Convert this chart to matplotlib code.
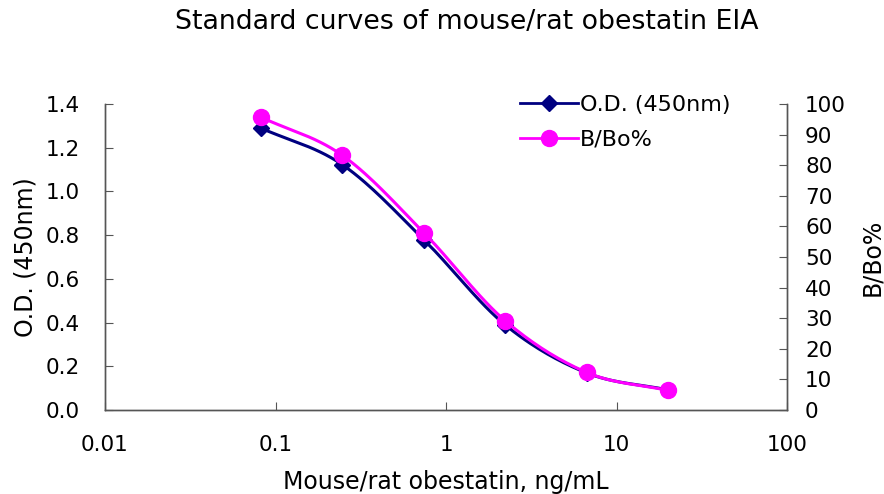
import matplotlib
matplotlib.use("Agg")
import matplotlib.pyplot as plt
from matplotlib.ticker import FixedLocator, FixedFormatter, NullLocator
import numpy as np

conc = [0.082, 0.247, 0.74, 2.22, 6.67, 20.0]
od_450 = [1.29, 1.122, 0.78, 0.39, 0.17, 0.092]
b_bo = [95.7, 83.2, 58.0, 29.2, 12.3, 6.4]

x_ticks = [0.01, 0.1, 1, 10, 100]
x_tick_labels = ["0.01", "0.1", "1", "10", "100"]
left_ticks = [0.0, 0.2, 0.4, 0.6, 0.8, 1.0, 1.2, 1.4]
right_ticks = [0, 10, 20, 30, 40, 50, 60, 70, 80, 90, 100]

NAVY = "#000080"
MAGENTA = "#ff00ff"
TICK_FS = 15.5
LABEL_FS = 17


def smooth(xs, ys, n=30):
    # Catmull-Rom style smoothing in (log x, y) space, like a spreadsheet smoothed line
    lx = np.log10(xs)
    y = np.asarray(ys, dtype=float)
    px = np.concatenate([[2 * lx[0] - lx[1]], lx, [2 * lx[-1] - lx[-2]]])
    py = np.concatenate([[2 * y[0] - y[1]], y, [2 * y[-1] - y[-2]]])
    out_x, out_y = [], []
    t = np.linspace(0, 1, n)
    for i in range(1, len(px) - 2):
        p0, p1, p2, p3 = px[i - 1], px[i], px[i + 1], px[i + 2]
        q0, q1, q2, q3 = py[i - 1], py[i], py[i + 1], py[i + 2]
        c1x, c2x = p1 + (p2 - p0) / 6, p2 - (p3 - p1) / 6
        c1y, c2y = q1 + (q2 - q0) / 6, q2 - (q3 - q1) / 6
        bx = (1 - t) ** 3 * p1 + 3 * (1 - t) ** 2 * t * c1x + 3 * (1 - t) * t ** 2 * c2x + t ** 3 * p2
        by = (1 - t) ** 3 * q1 + 3 * (1 - t) ** 2 * t * c1y + 3 * (1 - t) * t ** 2 * c2y + t ** 3 * q2
        out_x.extend(10 ** bx)
        out_y.extend(by)
    return out_x, out_y


fig = plt.figure(figsize=(8.84, 4.94), dpi=100)
ax = fig.add_axes([105 / 884, 1 - 410 / 494, 682 / 884, 306 / 494])
ax2 = ax.twinx()

sx, sy = smooth(conc, od_450)
ax.plot(sx, sy, color=NAVY, lw=2.2, zorder=3)
ax.plot(conc, od_450, ls="none", marker="D", ms=8, color=NAVY, zorder=4)

sx2, sy2 = smooth(conc, b_bo)
ax2.plot(sx2, sy2, color=MAGENTA, lw=2.2, zorder=3)
ax2.plot(conc, b_bo, ls="none", marker="o", ms=11.5, color=MAGENTA, zorder=4)

ax.set_xscale("log")
ax.set_xlim(0.01, 100)
ax.set_ylim(0, 1.4)
ax2.set_ylim(0, 100)

ax.xaxis.set_major_locator(FixedLocator(x_ticks))
ax.xaxis.set_major_formatter(FixedFormatter(x_tick_labels))
ax.xaxis.set_minor_locator(NullLocator())
ax.set_yticks(left_ticks)
ax.set_yticklabels([f"{v:.1f}" for v in left_ticks])
ax2.set_yticks(right_ticks)

for a in (ax, ax2):
    a.spines["top"].set_visible(False)
    for s in a.spines.values():
        s.set_color("#555555")
        s.set_linewidth(1.0)
ax.tick_params(axis="x", direction="in", length=6, pad=18, labelsize=TICK_FS, color="#555555")
ax.tick_params(axis="y", direction="in", length=6, pad=18, labelsize=TICK_FS, color="#555555")
ax2.tick_params(axis="y", direction="in", length=6, pad=13, labelsize=TICK_FS, color="#555555")

ax.set_xlabel("Mouse/rat obestatin, ng/mL", fontsize=LABEL_FS, labelpad=11)
ax.set_ylabel("O.D. (450nm)", fontsize=LABEL_FS, labelpad=6)
ax2.set_ylabel("B/Bo%", fontsize=LABEL_FS, labelpad=10)

fig.text(0.528, 1 - 22 / 494, "Standard curves of mouse/rat obestatin EIA",
         ha="center", va="center", fontsize=19.3)

h1 = plt.Line2D([], [], color=NAVY, lw=2, marker="D", ms=8)
h2 = plt.Line2D([], [], color=MAGENTA, lw=2, marker="o", ms=11.5)
ax2.legend([h1, h2], ["O.D. (450nm)", "B/Bo%"], loc="upper left",
           bbox_to_anchor=(395 / 682, 1.095), frameon=False, fontsize=16,
           handlelength=2.6, handletextpad=0.1, labelspacing=0.65)

fig.savefig("out.png", dpi=100)
